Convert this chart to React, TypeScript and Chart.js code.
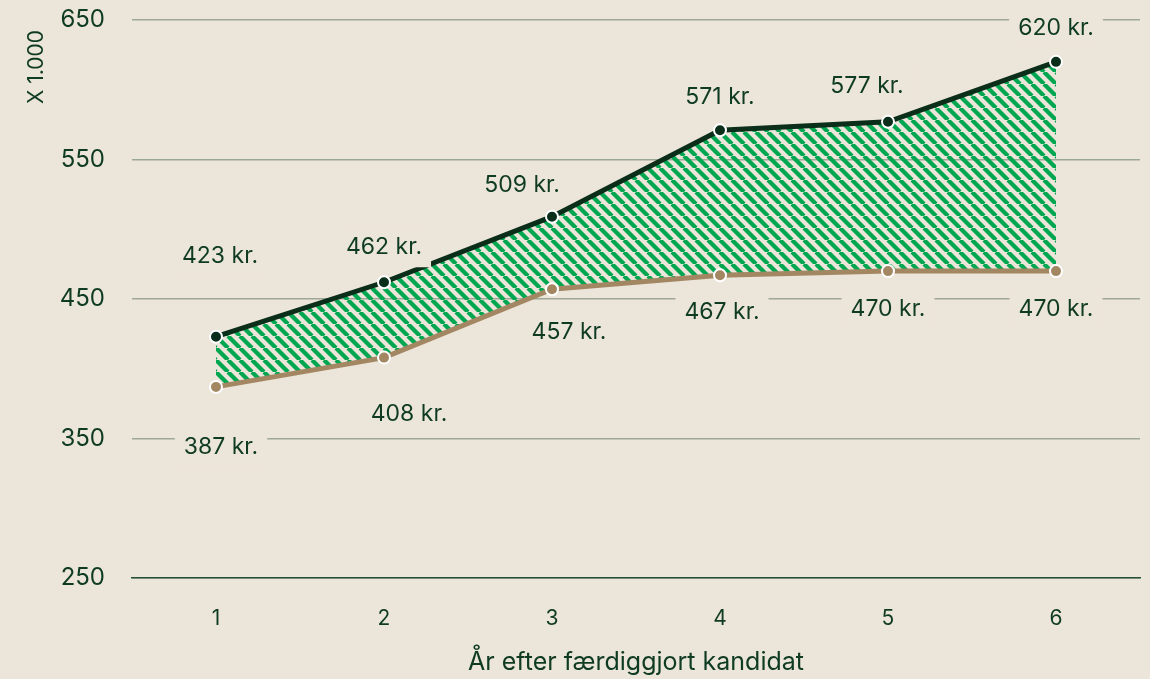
import { useEffect, useRef } from "react";
import { Chart, registerables } from "chart.js";

Chart.register(...registerables);

// ---- data ----
const categories = ["1", "2", "3", "4", "5", "6"];
const upperValues = [423, 462, 509, 571, 577, 620];
const lowerValues = [387, 408, 457, 467, 470, 470];
const yTickValues = [250, 350, 450, 550, 650];
const valueSuffix = " kr.";
const yAxisTitle = "X 1.000";
const xAxisTitle = "År efter færdiggjort kandidat";

// ---- style ----
const BG = "#ECE5DA";
const TEXT = "#0E3B22";
const DARK = "#0A2E19";
const BROWN = "#A38763";
const GREEN = "#00A650";
const GRID = "#9DA897";
const AXIS = "#24503A";
const FONT = "Inter";

// label placement relative to each point (px): [dx, dy]
const upperLabelOffsets = [[4, -82], [0, -36], [-30, -33], [0, -34], [-21, -37], [0, -35]];
const lowerLabelOffsets = [[5, 59], [25, 55], [17, 42], [2, 36], [0, 37], [0, 37]];

function makeHatch(): CanvasPattern | string {
  const s = 12;
  const c = document.createElement("canvas");
  c.width = s;
  c.height = s;
  const p = c.getContext("2d");
  if (!p) return GREEN;
  p.strokeStyle = GREEN;
  p.lineWidth = 4.2;
  for (const o of [-s, 0, s]) {
    p.beginPath();
    p.moveTo(o, 0);
    p.lineTo(o + s, s);
    p.stroke();
  }
  return p.createPattern(c, "repeat") || GREEN;
}

const labelPlugin = {
  id: "valueLabels",
  afterDatasetsDraw(chart: any) {
    const ctx = chart.ctx as CanvasRenderingContext2D;
    const sets = [
      { idx: 0, offs: upperLabelOffsets },
      { idx: 1, offs: lowerLabelOffsets },
    ];
    ctx.save();
    ctx.font = `400 23px ${FONT}`;
    ctx.textAlign = "center";
    ctx.textBaseline = "middle";
    for (const s of sets) {
      const meta = chart.getDatasetMeta(s.idx);
      const data = chart.data.datasets[s.idx].data as number[];
      meta.data.forEach((el: any, i: number) => {
        const text = `${data[i]}${valueSuffix}`;
        const x = el.x + s.offs[i][0];
        const y = el.y + s.offs[i][1];
        const w = ctx.measureText(text).width;
        ctx.fillStyle = BG;
        ctx.fillRect(x - w / 2 - 9, y - 21, w + 18, 42);
        ctx.fillStyle = TEXT;
        ctx.fillText(text, x, y + 1);
      });
    }
    ctx.restore();
  },
};

const yTitlePlugin = {
  id: "yTitle",
  afterDraw(chart: any) {
    const ctx = chart.ctx as CanvasRenderingContext2D;
    const area = chart.chartArea;
    ctx.save();
    ctx.translate(37, area.top + 10);
    ctx.rotate(-Math.PI / 2);
    ctx.font = `400 21px ${FONT}`;
    ctx.fillStyle = TEXT;
    ctx.textAlign = "right";
    ctx.textBaseline = "middle";
    ctx.fillText(yAxisTitle, 0, 0);
    ctx.restore();
  },
};

export default function App() {
  const ref = useRef<HTMLCanvasElement | null>(null);

  useEffect(() => {
    document.body.style.margin = "0";
    document.body.style.background = BG;
    if (!ref.current) return;
    const hatch = makeHatch();
    const chart = new Chart(ref.current, {
      type: "line",
      data: {
        labels: categories,
        datasets: [
          {
            data: upperValues,
            borderColor: DARK,
            backgroundColor: hatch as any,
            borderWidth: 5,
            pointBackgroundColor: DARK,
            pointBorderColor: "#FFFFFF",
            pointBorderWidth: 2,
            pointRadius: 6,
            fill: { target: 1 },
            tension: 0,
          },
          {
            data: lowerValues,
            borderColor: BROWN,
            backgroundColor: BROWN,
            borderWidth: 5,
            pointBackgroundColor: BROWN,
            pointBorderColor: "#FFFFFF",
            pointBorderWidth: 2,
            pointRadius: 6,
            fill: false,
            tension: 0,
          },
        ],
      },
      options: {
        animation: false,
        responsive: false,
        maintainAspectRatio: false,
        layout: { padding: { left: 24, right: 10, top: 20, bottom: 0 } },
        plugins: {
          legend: { display: false },
          tooltip: { enabled: false },
          filler: { drawTime: "beforeDatasetsDraw" } as any,
        },
        scales: {
          x: {
            type: "category",
            offset: true,
            grid: { display: false, drawTicks: false },
            border: { display: true, color: AXIS, width: 1.5 },
            ticks: { color: TEXT, font: { family: FONT, size: 21 }, padding: 28 },
            title: {
              display: true,
              text: xAxisTitle,
              color: TEXT,
              font: { family: FONT, size: 25 },
              padding: { top: 0, bottom: 2 },
            },
            afterFit: (scale: any) => {
              scale.height = 101;
            },
          },
          y: {
            min: 250,
            max: 650,
            afterBuildTicks: (scale: any) => {
              scale.ticks = yTickValues.map((v) => ({ value: v }));
            },
            grid: { color: GRID, lineWidth: 1.5, drawTicks: false },
            border: { display: false },
            ticks: { color: TEXT, font: { family: FONT, size: 24 }, padding: 27 },
            title: { display: false },
            afterFit: (scale: any) => {
              scale.width = 108;
              scale.paddingTop = 0;
              scale.paddingBottom = 0;
            },
          },
        },
      },
      plugins: [labelPlugin, yTitlePlugin],
    });
    return () => chart.destroy();
  }, []);

  return (
    <div style={{ width: 1150, height: 679, background: BG }}>
      <canvas ref={ref} width={1150} height={679} style={{ display: "block" }} />
    </div>
  );
}
